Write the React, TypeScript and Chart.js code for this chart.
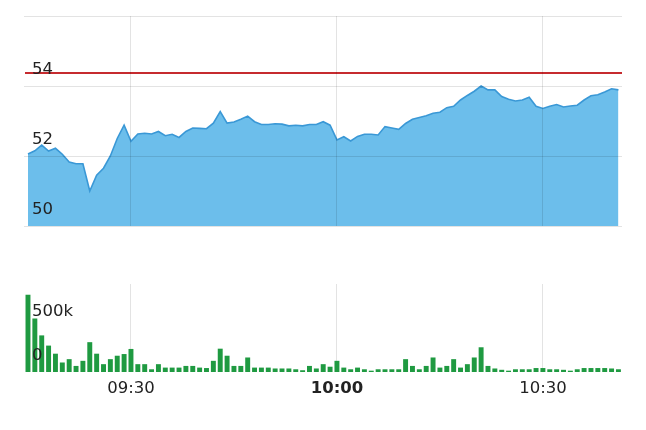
import React, { useEffect, useRef } from "react";
import { Chart, registerables } from "chart.js";

Chart.register(...registerables);

const times = [
  "09:15","09:16","09:17","09:18","09:19","09:20","09:21","09:22","09:23","09:24",
  "09:25","09:26","09:27","09:28","09:29","09:30","09:31","09:32","09:33","09:34",
  "09:35","09:36","09:37","09:38","09:39","09:40","09:41","09:42","09:43","09:44",
  "09:45","09:46","09:47","09:48","09:49","09:50","09:51","09:52","09:53","09:54",
  "09:55","09:56","09:57","09:58","09:59","10:00","10:01","10:02","10:03","10:04",
  "10:05","10:06","10:07","10:08","10:09","10:10","10:11","10:12","10:13","10:14",
  "10:15","10:16","10:17","10:18","10:19","10:20","10:21","10:22","10:23","10:24",
  "10:25","10:26","10:27","10:28","10:29","10:30","10:31","10:32","10:33","10:34",
  "10:35","10:36","10:37","10:38","10:39","10:40","10:41",
];

const price = [
  52.06, 52.15, 52.31, 52.14, 52.22, 52.05, 51.83, 51.78, 51.78, 51.0,
  51.45, 51.65, 52.0, 52.5, 52.88, 52.42, 52.63, 52.65, 52.63, 52.7,
  52.58, 52.62, 52.53, 52.7, 52.8, 52.79, 52.78, 52.94, 53.27, 52.94,
  52.97, 53.05, 53.14, 52.98, 52.9, 52.9, 52.92, 52.91, 52.86, 52.88,
  52.86, 52.9, 52.9, 52.98, 52.88, 52.46, 52.55, 52.43, 52.56, 52.62,
  52.62, 52.6, 52.84, 52.8, 52.76, 52.93, 53.05, 53.1, 53.15, 53.22,
  53.25, 53.38, 53.42, 53.6, 53.73, 53.85, 54.0, 53.89, 53.89, 53.7,
  53.62, 53.57, 53.6, 53.68, 53.42, 53.36, 53.42, 53.47, 53.4, 53.43,
  53.45, 53.6, 53.72, 53.75, 53.83, 53.92, 53.89,
];

const volume = [
  878000, 608000, 416000, 300000, 208000, 108000, 146000, 69000, 127000, 339000,
  208000, 89000, 146000, 185000, 204000, 262000, 89000, 89000, 31000, 89000,
  50000, 50000, 50000, 69000, 69000, 50000, 45000, 127000, 265000, 185000,
  69000, 69000, 165000, 50000, 50000, 50000, 40000, 40000, 40000, 31000,
  20000, 69000, 40000, 89000, 60000, 127000, 50000, 31000, 50000, 31000,
  15000, 31000, 31000, 31000, 31000, 146000, 69000, 31000, 69000, 165000,
  50000, 69000, 146000, 50000, 89000, 165000, 281000, 69000, 40000, 25000,
  15000, 31000, 31000, 31000, 45000, 45000, 31000, 31000, 25000, 15000,
  31000, 45000, 45000, 45000, 45000, 40000, 31000,
];

const prevClose = 54.37;
const xTickIndexes = [15, 45, 75]; // 09:30, 10:00, 10:30
const boldTickIndex = 45;
const priceGrid = [50, 52, 54, 56];
const priceTickLabels = ["50", "52", "54", ""];
const volumeTickValues = [0, 500000];
const volumeTickLabels = ["0", "500k"];

const FONT = "'DejaVu Sans', Verdana, sans-serif";
const GRID = "rgba(0,0,0,0.11)";
const X_MIN = -0.58;
const X_MAX = 86.52;

const refLinePlugin = {
  id: "refLine",
  afterDatasetsDraw(chart: any) {
    const y = chart.scales.y.getPixelForValue(prevClose);
    const { left, right } = chart.chartArea;
    const ctx = chart.ctx;
    ctx.save();
    ctx.strokeStyle = "#c62b2f";
    ctx.lineWidth = 2;
    ctx.beginPath();
    ctx.moveTo(left + 1, y);
    ctx.lineTo(right, y);
    ctx.stroke();
    ctx.restore();
  },
};

function xScale(showLabels: boolean, axisHeight: number, gridZ: number) {
  return {
    type: "linear",
    min: X_MIN,
    max: X_MAX,
    offset: false,
    border: { display: false },
    grid: { color: GRID, drawTicks: false, lineWidth: 1, offset: false, z: gridZ },
    afterBuildTicks: (scale: any) => {
      scale.ticks = xTickIndexes.map((v) => ({ value: v }));
    },
    afterFit: (scale: any) => {
      scale.height = axisHeight;
      scale.paddingLeft = 0;
      scale.paddingRight = 0;
    },
    ticks: {
      display: showLabels,
      padding: 7,
      color: "#222",
      maxRotation: 0,
      autoSkip: false,
      font: (ctx: any) => ({
        family: FONT,
        size: 16.5,
        weight: ctx.tick && ctx.tick.value === boldTickIndex ? "bold" : "normal",
      }),
      callback: (v: any) => times[v] ?? "",
    },
  };
}

function yFit(scale: any) {
  scale.width = 0;
  scale.paddingTop = 0;
  scale.paddingBottom = 0;
}

export default function App() {
  const priceRef = useRef<HTMLCanvasElement>(null);
  const volRef = useRef<HTMLCanvasElement>(null);

  useEffect(() => {
    const priceChart = new Chart(priceRef.current as HTMLCanvasElement, {
      type: "line",
      data: {
        datasets: [
          {
            data: price.map((p, i) => ({ x: i, y: p })),
            borderColor: "#3a98d6",
            borderWidth: 1.6,
            backgroundColor: "#6cbeeb",
            fill: "start",
            pointRadius: 0,
            tension: 0,
          },
        ],
      },
      options: {
        responsive: false,
        animation: false,
        events: [],
        layout: { padding: { left: 24, right: 24, top: 16, bottom: 14 } },
        plugins: { legend: { display: false }, tooltip: { enabled: false } },
        scales: {
          x: xScale(false, 0, 1) as any,
          y: {
            min: 50,
            max: 56,
            border: { display: false },
            grid: { color: GRID, drawTicks: false, z: 1 },
            afterBuildTicks: (scale: any) => {
              scale.ticks = priceGrid.map((v) => ({ value: v }));
            },
            afterFit: yFit,
            ticks: {
              z: 2,
              mirror: true,
              padding: 8,
              labelOffset: -16,
              autoSkip: false,
              color: "#222",
              font: { family: FONT, size: 16.5 },
              callback: (v: any) => {
                const k = priceGrid.indexOf(v);
                return k >= 0 ? priceTickLabels[k] : "";
              },
            },
          },
        },
      },
      plugins: [refLinePlugin],
    } as any);

    const volChart = new Chart(volRef.current as HTMLCanvasElement, {
      type: "bar",
      data: {
        datasets: [
          {
            data: volume.map((v, i) => ({ x: i, y: v })),
            backgroundColor: "#1f9a41",
            borderWidth: 0,
            barPercentage: 0.9,
            categoryPercentage: 0.8,
          },
        ],
      },
      options: {
        responsive: false,
        animation: false,
        events: [],
        layout: { padding: { left: 24, right: 24, top: 14, bottom: 0 } },
        plugins: { legend: { display: false }, tooltip: { enabled: false } },
        scales: {
          x: xScale(true, 58, -1) as any,
          y: {
            min: 0,
            max: 1000000,
            border: { display: false },
            grid: { display: false, drawTicks: false },
            afterBuildTicks: (scale: any) => {
              scale.ticks = volumeTickValues.map((v) => ({ value: v }));
            },
            afterFit: yFit,
            ticks: {
              z: 2,
              mirror: true,
              padding: 8,
              labelOffset: -16,
              autoSkip: false,
              color: "#222",
              font: { family: FONT, size: 16.5 },
              callback: (v: any) => {
                const k = volumeTickValues.indexOf(v);
                return k >= 0 ? volumeTickLabels[k] : "";
              },
            },
          },
        },
      },
    } as any);

    return () => {
      priceChart.destroy();
      volChart.destroy();
    };
  }, []);

  return (
    <div
      style={{
        position: "fixed",
        left: 0,
        top: 0,
        width: 646,
        height: 430,
        background: "#fff",
      }}
    >
      <canvas
        ref={priceRef}
        width={646}
        height={240}
        style={{ position: "absolute", left: 0, top: 0, display: "block" }}
      />
      <canvas
        ref={volRef}
        width={646}
        height={160}
        style={{ position: "absolute", left: 0, top: 270, display: "block" }}
      />
    </div>
  );
}
